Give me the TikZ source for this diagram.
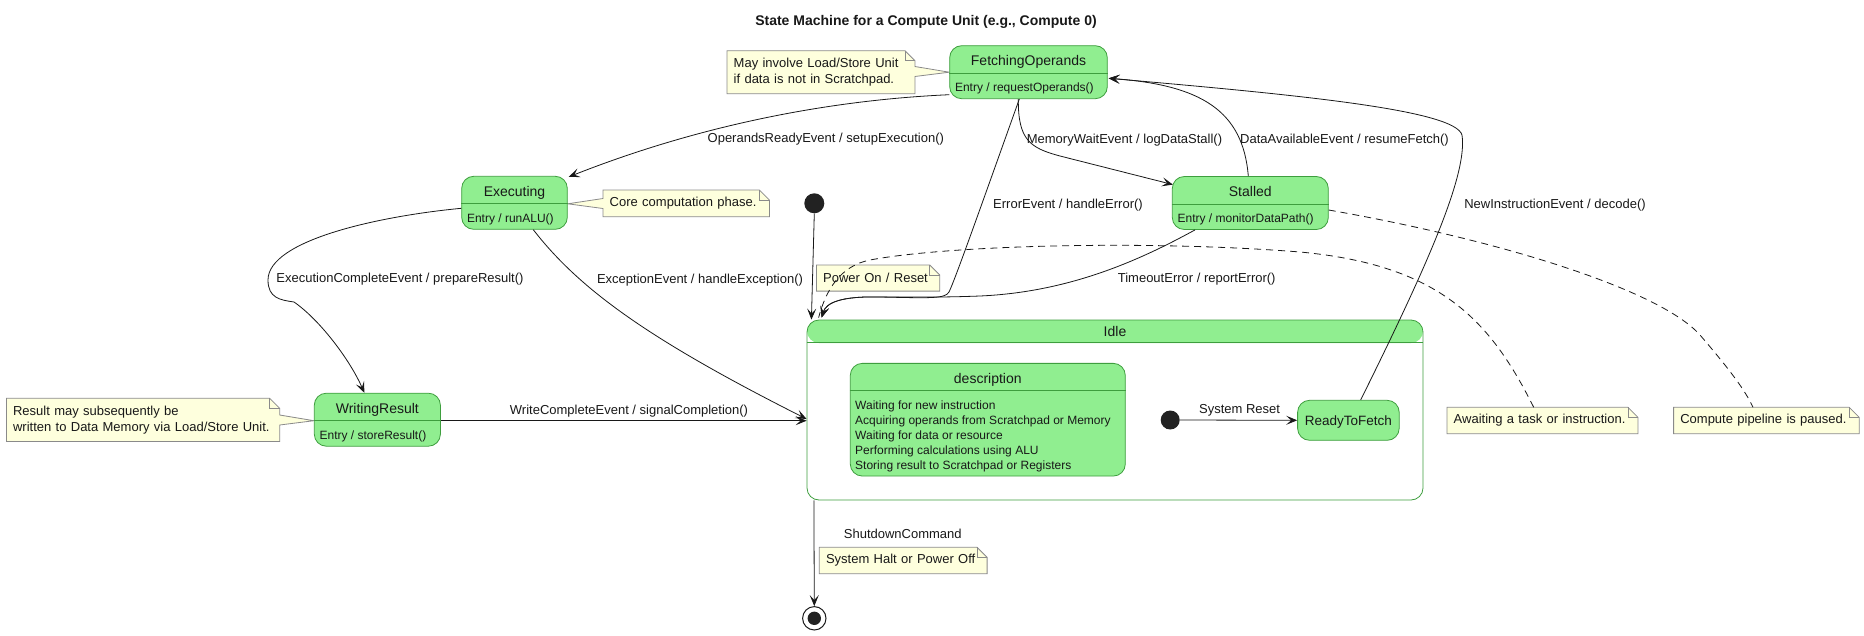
\documentclass[tikz,border=0pt]{standalone}
\usepackage{fontspec}
\setmainfont{Liberation Sans}
\usetikzlibrary{arrows.meta}
\pgfdeclarelayer{background}
\pgfsetlayers{background,main}
\definecolor{lg}{HTML}{90EE90}
\definecolor{sbd}{HTML}{3E9E3E}
\definecolor{notefill}{HTML}{FEFFDD}
\definecolor{notebd}{HTML}{8A8A8A}
\definecolor{ink}{HTML}{181818}
\definecolor{dot}{HTML}{222222}
\tikzset{
  every node/.style={text=ink},
  sbox/.style={draw=sbd, fill=lg, rounded corners=12pt, inner sep=0pt, line width=0.8pt},
  sline/.style={draw=sbd, line width=0.8pt},
  stitle/.style={font=\fontsize{14}{16}\selectfont, text height=10pt, text depth=0pt, inner sep=0pt},
  sentry/.style={font=\fontsize{12}{14}\selectfont, text height=8.6pt, text depth=0pt, inner sep=0pt, anchor=west},
  lbl/.style={font=\fontsize{13}{15}\selectfont, text height=9.3pt, text depth=0pt, inner sep=0pt},
  notebody/.style={inner xsep=6.5pt, inner ysep=0pt, align=left, anchor=north west, font=\fontsize{13}{16}\selectfont},
  tr/.style={draw=ink, line width=0.8pt, -{Stealth[length=11pt,width=9pt,inset=5pt]}},
  dsh/.style={draw=ink, line width=0.8pt, dash pattern=on 7pt off 5pt},
  nbd/.style={draw=notebd, fill=notefill, line width=0.8pt},
  foldln/.style={draw=notebd, line width=0.8pt},
  initst/.style={circle, fill=dot, inner sep=0pt, minimum size=20pt},
}
% name, cx, cy, width, title, entry
\newcommand\mkstate[6]{%
  \node[sbox, minimum width=#4, minimum height=53pt] (#1) at (#2,#3) {};
  \draw[sline] ([yshift=-1pt]#1.west) -- ([yshift=-1pt]#1.east);
  \node[stitle] (#1-t) at ([yshift=11.5pt]#1.center) {#5};
  \node[sentry] (#1-e) at ([xshift=5.5pt,yshift=-15pt]#1.west) {#6};
}
% plain note outline with folded corner
\newcommand\notepoly[1]{%
  \begin{pgfonlayer}{background}
  \draw[nbd] (#1.south west) -- (#1.north west) -- ([xshift=-10pt]#1.north east) -- ([yshift=-10pt]#1.north east) -- (#1.south east) -- cycle;
  \end{pgfonlayer}
  \draw[foldln] ([xshift=-10pt]#1.north east) -- ([xshift=-10pt,yshift=-10pt]#1.north east) -- ([yshift=-10pt]#1.north east);
}
\begin{document}
\begin{tikzpicture}[x=1pt,y=-1pt]
\useasboundingbox (0,0) rectangle (1864,635);

\node[font=\bfseries\fontsize{14}{16}\selectfont, text height=10pt, text depth=0pt, inner sep=0pt] (title) at (926,20) {State Machine for a Compute Unit (e.g., Compute 0)};

% ---- states
\mkstate{fo}{1028.5}{72.2}{157.6pt}{FetchingOperands}{Entry / requestOperands()}
\mkstate{ex}{514.5}{202.8}{105.6pt}{Executing}{Entry / runALU()}
\mkstate{st}{1250.3}{203}{156pt}{Stalled}{Entry / monitorDataPath()}
\mkstate{wr}{377.35}{419.7}{126.1pt}{WritingResult}{Entry / storeResult()}

\node[initst] (ini) at (814.3,203.3) {};

% ---- composite Idle
\node[draw=sbd, fill=white, rounded corners=12pt, minimum width=616pt, minimum height=180pt, inner sep=0pt, line width=0.8pt,
  path picture={\fill[lg] (path picture bounding box.north west) rectangle ([yshift=-23pt]path picture bounding box.north east);}] (idle) at (1115,410) {};
\draw[sline] ([yshift=-23pt]idle.north west) -- ([yshift=-23pt]idle.north east);
\node[stitle] (idle-t) at ([yshift=-11.5pt]idle.north) {Idle};

\node[sbox, minimum width=275pt, minimum height=112.7pt] (desc) at (987.8,419.7) {};
\draw[sline] ([yshift=-27.7pt]desc.north west) -- ([yshift=-27.7pt]desc.north east);
\node[stitle] (desc-t) at ([yshift=-15.4pt]desc.north) {description};
\node[sentry] (desc-1) at (855,405) {Waiting for new instruction};
\node[sentry] (desc-2) at (855,420) {Acquiring operands from Scratchpad or Memory};
\node[sentry] (desc-3) at (855,435) {Waiting for data or resource};
\node[sentry] (desc-4) at (855,450) {Performing calculations using ALU};
\node[sentry] (desc-5) at (855,465) {Storing result to Scratchpad or Registers};

\node[initst, minimum size=19pt] (iinit) at (1170.2,420) {};
\node[sbox, minimum width=101.6pt, minimum height=40pt, font=\fontsize{13.5}{15}\selectfont, text height=9.7pt, text depth=0pt] (rtf) at (1348.4,420.3) {ReadyToFetch};

% ---- final state
\node[circle, draw=ink, line width=1pt, minimum size=23.4pt, inner sep=0pt] (fin) at (814.3,618.3) {};
\node[circle, fill=dot, minimum size=13.4pt, inner sep=0pt] (fin-i) at (fin) {};

% ---- notes
\node[notebody, text width=174.5pt, minimum height=42.6pt] (n1) at (727,50.7) {May involve Load/Store Unit\\if data is not in Scratchpad.};
\node[notebody, text width=153pt, minimum height=26.3pt] (cn) at (603,190) {Core computation phase.};
\node[notebody, text width=259.9pt, minimum height=42.7pt] (rn) at (6.4,398.3) {Result may subsequently be\\written to Data Memory via Load/Store Unit.};
\node[notebody, text width=109.9pt, minimum height=25.7pt] (pn) at (816.4,265) {Power On / Reset};
\node[notebody, text width=154.4pt, minimum height=26pt] (hn) at (819.3,547.3) {System Halt or Power Off};
\node[notebody, text width=177.5pt, minimum height=26pt] (aw) at (1447,407.3) {Awaiting a task or instruction.};
\node[notebody, text width=172.2pt, minimum height=26pt] (cp) at (1673.6,407.3) {Compute pipeline is paused.};

\begin{pgfonlayer}{background}
\draw[nbd] (n1.south west) -- (n1.north west) -- ([xshift=-10pt]n1.north east) -- ([yshift=-10pt]n1.north east) -- ([yshift=-15.8pt]n1.north east) -- (fo.west) -- ([yshift=-25.8pt]n1.north east) -- (n1.south east) -- cycle;
\draw[nbd] (cn.north west) -- ([xshift=-10pt]cn.north east) -- ([yshift=-10pt]cn.north east) -- (cn.south east) -- (cn.south west) -- ([yshift=-18.5pt]cn.north west) -- ([yshift=-1pt]ex.east) -- ([yshift=-8.5pt]cn.north west) -- cycle;
\draw[nbd] (rn.south west) -- (rn.north west) -- ([xshift=-10pt]rn.north east) -- ([yshift=-10pt]rn.north east) -- ([yshift=-16.7pt]rn.north east) -- ([yshift=-1pt]wr.west) -- ([yshift=-26.7pt]rn.north east) -- (rn.south east) -- cycle;
\end{pgfonlayer}
\draw[foldln] ([xshift=-10pt]n1.north east) -- ([xshift=-10pt,yshift=-10pt]n1.north east) -- ([yshift=-10pt]n1.north east);
\draw[foldln] ([xshift=-10pt]cn.north east) -- ([xshift=-10pt,yshift=-10pt]cn.north east) -- ([yshift=-10pt]cn.north east);
\draw[foldln] ([xshift=-10pt]rn.north east) -- ([xshift=-10pt,yshift=-10pt]rn.north east) -- ([yshift=-10pt]rn.north east);
\notepoly{pn}
\notepoly{hn}
\notepoly{aw}
\notepoly{cp}

% ---- transitions
\draw[tr] ([yshift=4.4pt]fo.south west) .. controls (830,100) and (700,125) .. ([xshift=1pt,yshift=-1pt]ex.north east);
\draw[tr] ([xshift=-10.2pt]fo.south) .. controls (1018,140) and (1030,148) .. (1060,156) -- ([xshift=1pt,yshift=-8.5pt]st.north west);
\draw[tr] ([xshift=-2pt]st.north) .. controls (1243,110) and (1200,85) .. ([xshift=1pt,yshift=-6.1pt]fo.east);
\draw[tr] ([xshift=12.3pt]rtf.north) .. controls (1425,270) and (1468,175) .. (1462,135) .. controls (1455,110) and (1300,95) .. ([xshift=1pt,yshift=-6.1pt]fo.east);
\draw[tr] ([xshift=-9.2pt]fo.south) .. controls (985,195) and (955,280) .. (949,292) .. controls (945,299) and (930,298) .. (880,297) .. controls (840,296) and (826,303) .. ([xshift=15pt,yshift=2pt]idle.north west);
\draw[tr] ([xshift=-55.3pt]st.south) .. controls (1140,260) and (1070,292) .. (980,296) .. controls (940,297.5) and (920,297) .. (880,297) .. controls (840,296) and (826,303) .. ([xshift=15pt,yshift=2pt]idle.north west);
\draw[tr] (ini.south) -- ([xshift=4.8pt]idle.north west);
\draw[tr] ([yshift=-5.5pt]ex.west) .. controls (380,216) and (268,240) .. (268,280) .. controls (268,298) and (280,300) .. (294,302) .. controls (320,320) and (350,360) .. ([xshift=-13pt]wr.north);
\draw[tr] ([xshift=18.8pt]ex.south) .. controls (580,290) and (650,340) .. ([yshift=-9pt]idle.west);
\draw[tr] ([yshift=-1pt]wr.east) -- ([yshift=-10.7pt]idle.west);
\draw[tr] (iinit.east) -- (rtf.west);
\draw[tr] ([xshift=7.3pt]idle.south west) -- (fin.north);

% ---- note links
\draw[dsh] ([xshift=86.7pt]aw.north west) .. controls (1490,320) and (1440,265) .. (1300,252) .. controls (1150,240) and (950,245) .. (870,260) .. controls (840,266) and (826,290) .. ([xshift=12pt,yshift=2pt]idle.north west);
\draw[dsh] ([yshift=-7pt]st.east) .. controls (1500,240) and (1660,290) .. (1700,335) .. controls (1730,370) and (1745,390) .. ([xshift=79.4pt]cp.north west);

% ---- labels
\node[lbl] (l1) at (825.8,138.3) {OperandsReadyEvent / setupExecution()};
\node[lbl] (l2) at (1124.5,139) {MemoryWaitEvent / logDataStall()};
\node[lbl] (l3) at (1344.5,139) {DataAvailableEvent / resumeFetch()};
\node[lbl] (l4) at (1555,204.3) {NewInstructionEvent / decode()};
\node[lbl] (l5) at (1068,204.3) {ErrorEvent / handleError()};
\node[lbl] (l6) at (1196.7,278.3) {TimeoutError / reportError()};
\node[lbl] (l7) at (400,278.3) {ExecutionCompleteEvent / prepareResult()};
\node[lbl] (l8) at (700,279) {ExceptionEvent / handleException()};
\node[lbl] (l9) at (629,410) {WriteCompleteEvent / signalCompletion()};
\node[lbl] (l10) at (1239.6,409.3) {System Reset};
\node[lbl] (l11) at (902.8,534) {ShutdownCommand};
\end{tikzpicture}
\end{document}
